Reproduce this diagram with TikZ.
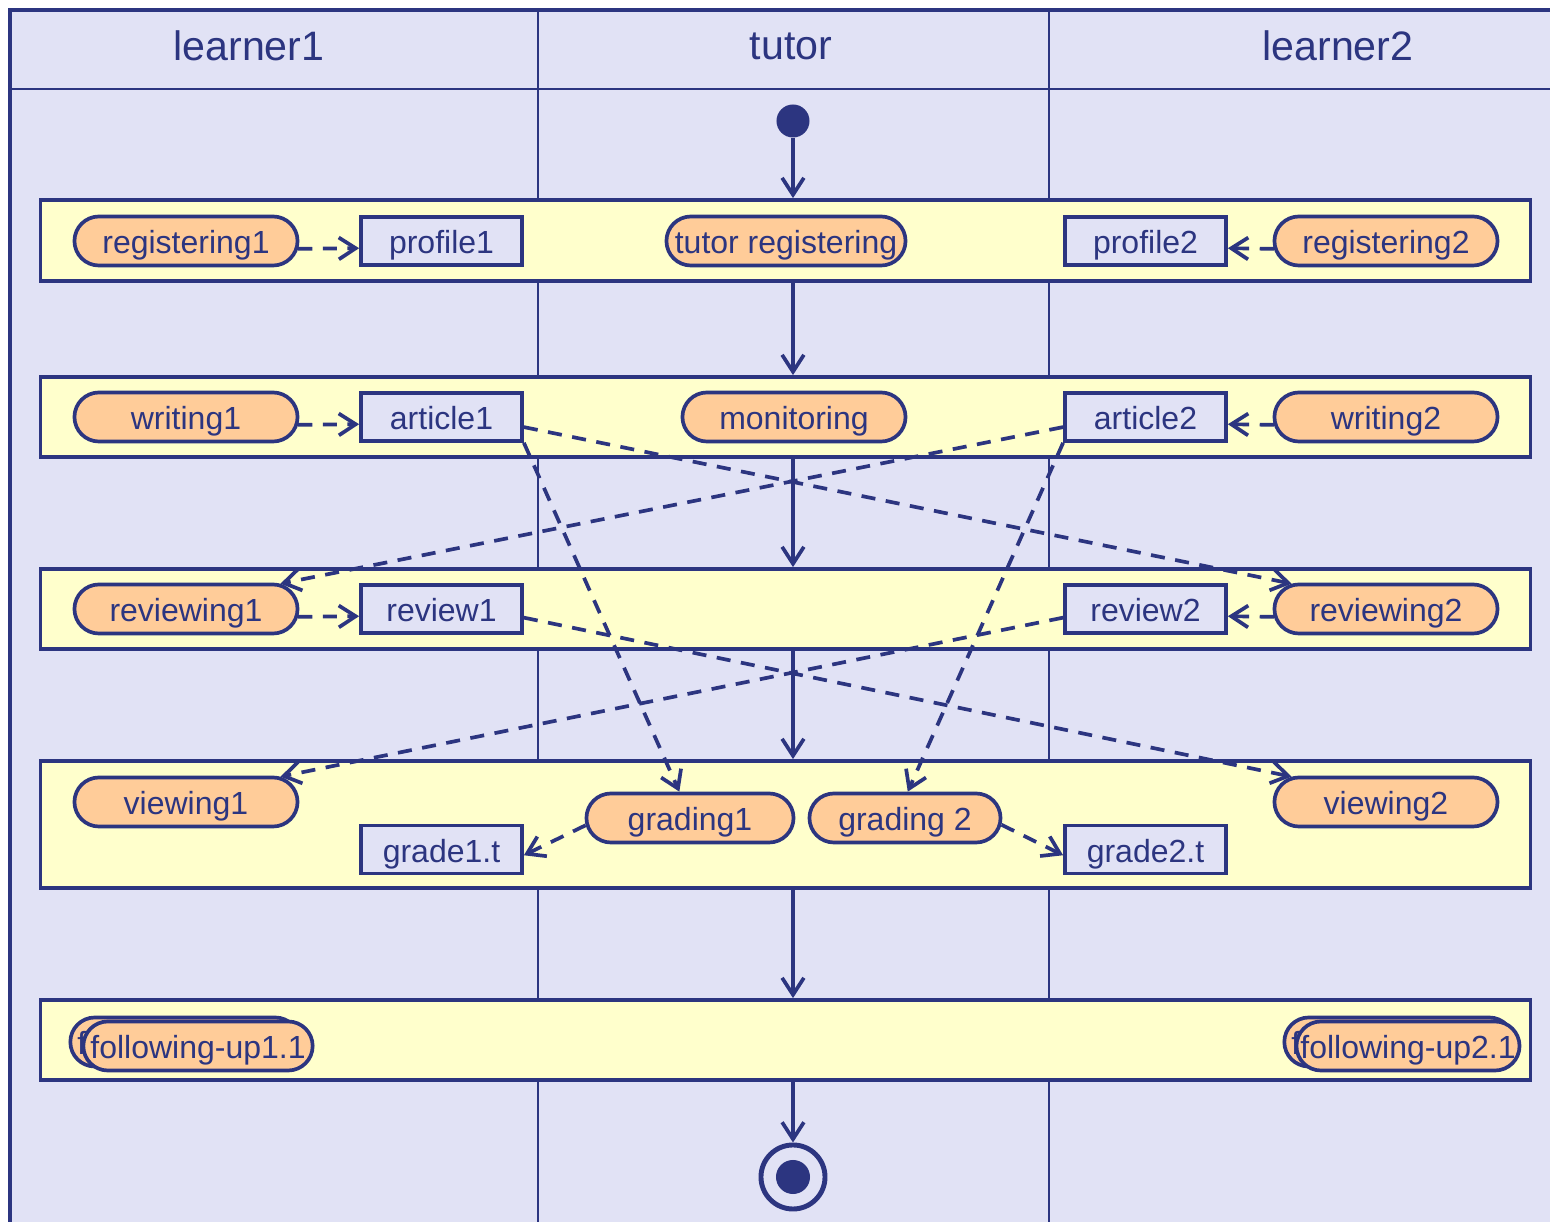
\documentclass[tikz,border=0pt]{standalone}
\usepackage{fontspec}
\setmainfont{Liberation Sans}
\usetikzlibrary{arrows.meta,shapes.misc}

\definecolor{umlblue}{RGB}{44,53,128}
\definecolor{lanebg}{RGB}{225,226,245}
\definecolor{bandbg}{RGB}{255,255,204}
\definecolor{actbg}{RGB}{255,204,153}

\begin{document}
\begin{tikzpicture}[x=0.01cm, y=-0.01cm, font=\fontsize{9.1}{11}\selectfont,
  >={Straight Barb[length=4.8pt,width=6.2pt,line width=1.05pt]},
  hdr/.style={font=\fontsize{11.7}{14}\selectfont, text=umlblue},
  band/.style={draw=umlblue, line width=1.05pt, fill=bandbg,
    minimum width=14.89cm, minimum height=0.8cm, inner sep=0pt},
  act/.style={rounded rectangle, draw=umlblue, line width=1.05pt,
    fill=actbg, text=umlblue, minimum width=2.3cm, minimum height=0.49cm,
    inner sep=1pt, text height=0.72em, text depth=0pt},
  obj/.style={draw=umlblue, line width=1.05pt, fill=lanebg, text=umlblue,
    minimum width=1.61cm, minimum height=0.48cm, inner sep=1pt,
    text height=0.72em, text depth=0pt},
  flow/.style={draw=umlblue, line width=1.05pt, ->},
  dep/.style={flow, dash pattern=on 4pt off 3pt},
]
\useasboundingbox (0,0) rectangle (1550,1222);
\clip (0,0) rectangle (1550,1222);

% Swimlane frame
\fill[white] (0,0) rectangle (1550,1222);
\fill[lanebg] (10,10) rectangle (1560,1230);
\draw[umlblue, line width=0.7pt] (10,89) -- (1560,89);
\draw[umlblue, line width=0.7pt] (538,10) -- (538,1230);
\draw[umlblue, line width=0.7pt] (1049,10) -- (1049,1230);
\draw[umlblue, line width=1.4pt] (10,1230) -- (10,10) -- (1560,10);

\node[hdr] (lane1) at (249,46) {learner1};
\node[hdr] (lane2) at (791,46) {tutor};
\node[hdr] (lane3) at (1338,46) {learner2};

% Synchronised phases
\node[band, minimum height=0.81cm] (b1) at (785.5,240.5) {};
\node[band] (b2) at (785.5,417) {};
\node[band] (b3) at (785.5,609) {};
\node[band, minimum height=1.27cm] (b4) at (785.5,824.5) {};
\node[band] (b5) at (785.5,1040) {};

% Start and end
\node[circle, fill=umlblue, minimum size=0.33cm, inner sep=0pt] (init) at (793,121) {};
\node[circle, draw=umlblue, line width=1.4pt, fill=lanebg, minimum size=0.64cm,
  inner sep=0pt] (final) at (793,1177) {};
\node[circle, fill=umlblue, minimum size=0.34cm, inner sep=0pt] (finaldot) at (final) {};

% Control flow
\draw[flow] (init) -- (init |- b1.north);
\draw[flow] (init |- b1.south) -- (init |- b2.north);
\draw[flow] (init |- b2.south) -- (init |- b3.north);
\draw[flow] (init |- b3.south) -- (init |- b4.north);
\draw[flow] (init |- b4.south) -- (init |- b5.north);
\draw[flow] (init |- b5.south) -- (final);

% Phase 1
\node[act] (reg1) at (186,241) {registering1};
\node[obj] (prof1) at (441.5,241) {profile1};
\node[act, minimum width=2.46cm] (treg) at (786,241) {tutor registering};
\node[obj] (prof2) at (1145.5,241) {profile2};
\node[act] (reg2) at (1386,241) {registering2};

% Phase 2
\node[act] (wri1) at (186,417) {writing1};
\node[obj] (art1) at (441.5,417) {article1};
\node[act] (mon) at (794,417) {monitoring};
\node[obj] (art2) at (1145.5,417) {article2};
\node[act] (wri2) at (1386,417) {writing2};

% Phase 3
\node[act] (revg1) at (186,609) {reviewing1};
\node[obj] (rev1) at (441.5,609) {review1};
\node[obj] (rev2) at (1145.5,609) {review2};
\node[act] (revg2) at (1386,609) {reviewing2};

% Phase 4
\node[act] (view1) at (186,802) {viewing1};
\node[act, minimum width=2.14cm] (grd1) at (690,818) {grading1};
\node[act, minimum width=1.98cm] (grd2) at (905,818) {grading 2};
\node[act] (view2) at (1386,802) {viewing2};
\node[obj] (grade1) at (441.5,849.5) {grade1.t};
\node[obj] (grade2) at (1145.5,849.5) {grade2.t};

% Phase 5 (stacked activities)
\node[act, minimum width=2.28cm] (fol1b) at (185,1042) {following-up1.1};
\node[act, minimum width=2.28cm] (fol1) at (198,1046) {following-up1.1};
\node[act, minimum width=2.28cm] (fol2b) at (1399,1042) {following-up2.1};
\node[act, minimum width=2.3cm] (fol2) at (1408,1046) {following-up2.1};

% Object flows
\draw[dep] (reg1.-4) -- (prof1.185);
\draw[dep] (reg2.184) -- (prof2.-5);
\draw[dep] (wri1.-4) -- (art1.185);
\draw[dep] (wri2.184) -- (art2.-5);
\draw[dep] (revg1.-4) -- (rev1.185);
\draw[dep] (revg2.184) -- (rev2.-5);

\draw[dep] (art1.-7) -- (revg2.165);
\draw[dep] (art2.187) -- (revg1.15);
\draw[dep] (art1.south east) -- (grd1.112);
\draw[dep] (art2.south west) -- (grd2.84);
\draw[dep] (rev1.-6) -- (view2.165);
\draw[dep] (rev2.186) -- (view1.15);
\draw[dep] (grd1.184) -- (grade1.-4);
\draw[dep] (grd2.-4) -- (grade2.184);

\end{tikzpicture}
\end{document}
